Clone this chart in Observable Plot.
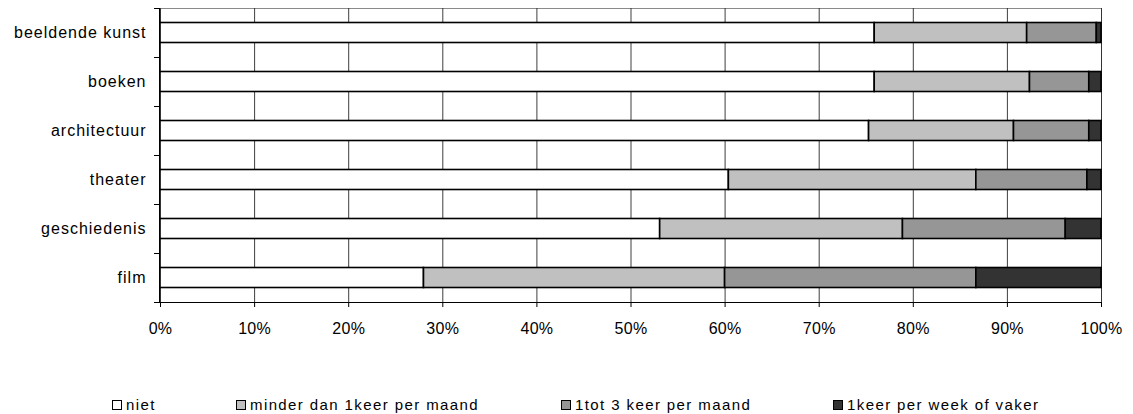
<!DOCTYPE html>
<html>
<head>
<meta charset="utf-8">
<script src="https://cdn.jsdelivr.net/npm/d3@7"></script>
<script src="https://cdn.jsdelivr.net/npm/@observablehq/plot@0.6"></script>
<style>
  body { margin: 0; background: #fff; font-family: "Liberation Sans", Arial, sans-serif; }
  #wrap { position: relative; width: 1133px; height: 414px; }
  g[aria-label="y-axis tick label"] text { letter-spacing: 1.0px; }
  g[aria-label="x-axis tick label"] text { letter-spacing: 0.3px; }
  .legend { position: absolute; top: 397px; left: 0; width: 1133px; height: 16px; font-size: 15px; line-height: 16px; letter-spacing: 1.4px; color: #000; }
  .item { position: absolute; top: 0; display: flex; align-items: center; white-space: nowrap; }
  .sw { width: 8px; height: 8px; border: 1.5px solid #000; margin-right: 4px; }
</style>
</head>
<body>
<div id="wrap"></div>
<script>
// ---- data ----
const categories = ["beeldende kunst", "boeken", "architectuur", "theater", "geschiedenis", "film"];
const series = ["niet", "minder dan 1keer per maand", "1tot 3 keer per maand", "1keer per week of vaker"];
const niet   = [75.9, 75.9, 75.3, 60.4, 53.1, 28.0];
const minder = [16.2, 16.5, 15.4, 26.3, 25.8, 32.0];
const tot3   = [7.4, 6.3, 8.0, 11.8, 17.3, 26.7];
const week   = [0.5, 1.3, 1.3, 1.5, 3.8, 13.3];
const xTicks = [0, 10, 20, 30, 40, 50, 60, 70, 80, 90, 100];
const colors = ["#ffffff", "#c0c0c0", "#969696", "#333333"];

const seriesValues = [niet, minder, tot3, week];
const rows = [];
series.forEach((s, si) => categories.forEach((c, ci) => rows.push({cat: c, series: s, value: seriesValues[si][ci]})));

const axesMark = (index, scales, values, dimensions) => {
  const {width, height, marginLeft, marginRight, marginTop, marginBottom} = dimensions;
  const ys = categories.map(c => scales.y(c));
  const step = ys[1] - ys[0];
  const bounds = [...ys, ys[ys.length - 1] + step];
  const g = d3.create("svg:g").attr("stroke", "#000").attr("stroke-width", 1).attr("shape-rendering", "crispEdges");
  const x0 = marginLeft - 0.5;
  const yb = height - marginBottom + 0.5;
  g.append("line").attr("x1", x0).attr("x2", x0).attr("y1", marginTop).attr("y2", yb);
  g.append("line").attr("x1", x0).attr("x2", width - marginRight).attr("y1", yb).attr("y2", yb);
  bounds.forEach(b => g.append("line").attr("x1", x0 - 6).attr("x2", x0).attr("y1", b).attr("y2", b));
  return g.node();
};

const chart = Plot.plot({
  width: 1133,
  height: 345,
  marginLeft: 160,
  marginRight: 32,
  marginTop: 8,
  marginBottom: 43,
  style: {fontFamily: "'Liberation Sans', Arial, sans-serif", fontSize: "16px", color: "#000", background: "#fff"},
  x: {domain: [0, 100], label: null},
  y: {domain: categories, padding: 0, label: null},
  color: {domain: series, range: colors},
  marks: [
    Plot.frame({stroke: "#8a8a8a"}),
    Plot.gridX(xTicks, {stroke: "#2a2a2a", strokeOpacity: 0.9}),
    Plot.barX(rows, {x: "value", y: "cat", fill: "series", stroke: "#000", strokeWidth: 1.6, insetTop: 14.5, insetBottom: 14.5, order: series}),
    Plot.axisX(xTicks, {tickSize: 5, tickPadding: 15, tickFormat: d => d + "%", fontSize: 16, stroke: "#000", label: null}),
    Plot.axisY({tickSize: 0, tickPadding: 14, fontSize: 16, label: null}),
    axesMark
  ]
});
document.getElementById("wrap").appendChild(chart);

// legend
const legendX = [112, 236, 561, 833];
const legend = d3.select("#wrap").append("div").attr("class", "legend");
series.forEach((s, i) => {
  const it = legend.append("div").attr("class", "item").style("left", legendX[i] + "px");
  it.append("div").attr("class", "sw").style("background", colors[i]);
  it.append("span").text(s);
});
</script>
</body>
</html>
